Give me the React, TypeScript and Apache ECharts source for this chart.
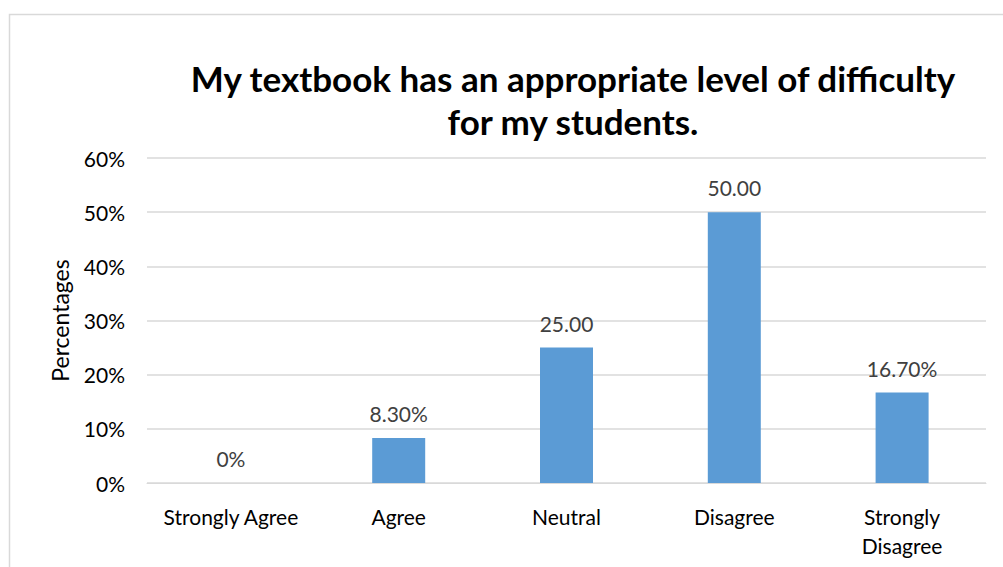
import React, { useEffect, useRef } from "react";
import * as echarts from "echarts";

const categories = ["Strongly Agree", "Agree", "Neutral", "Disagree", "Strongly\nDisagree"];
const values = [0, 8.3, 25, 50, 16.7];
const valueLabels = ["0%", "8.30%", "25.00", "50.00", "16.70%"];
const yTicks = [0, 10, 20, 30, 40, 50, 60];
const title = "My textbook has an appropriate level of difficulty\nfor my students.";
const yName = "Percentages";

const FONT = "Lato, 'Open Sans', sans-serif";

export default function App() {
  const ref = useRef<HTMLDivElement>(null);
  useEffect(() => {
    const chart = echarts.init(ref.current!, null, { renderer: "svg" });
    chart.setOption({
      animation: false,
      backgroundColor: "#ffffff",
      title: {
        text: title,
        left: 568,
        top: 51,
        textAlign: "center",
        textStyle: { fontFamily: FONT, fontWeight: "bold", fontSize: 35, lineHeight: 43, color: "#000" },
      },
      graphic: [
        {
          type: "rect",
          shape: { x: 9.5, y: 14.5, width: 1100, height: 700 },
          style: { fill: "none", stroke: "#d9d9d9", lineWidth: 1.5 },
          silent: true,
        },
      ],
      grid: { left: 147, right: 17, top: 158, bottom: 84 },
      xAxis: {
        type: "category",
        data: categories,
        axisTick: { show: false },
        axisLine: { lineStyle: { color: "#d9d9d9" } },
        axisLabel: { interval: 0, fontFamily: FONT, fontSize: 21, color: "#000", margin: 19, lineHeight: 29 },
      },
      yAxis: {
        type: "value",
        min: yTicks[0],
        max: yTicks[yTicks.length - 1],
        interval: 10,
        name: yName,
        nameLocation: "middle",
        nameGap: 76,
        nameTextStyle: { fontFamily: FONT, fontSize: 23, color: "#000" },
        axisLabel: { formatter: "{value}%", fontFamily: FONT, fontSize: 21, color: "#000", margin: 22 },
        splitLine: { lineStyle: { color: "#d9d9d9", width: 1.5 } },
        axisLine: { show: false },
        axisTick: { show: false },
      },
      series: [
        {
          type: "bar",
          data: values,
          barWidth: 53,
          itemStyle: { color: "#5b9bd5" },
          label: {
            show: true,
            position: "top",
            distance: 14,
            fontFamily: FONT,
            fontSize: 21,
            color: "#404040",
            formatter: (p: any) => valueLabels[p.dataIndex],
          },
        },
      ],
    });
    return () => chart.dispose();
  }, []);
  return <div ref={ref} style={{ position: "fixed", left: 0, top: 0, width: 1003, height: 567 }} />;
}
